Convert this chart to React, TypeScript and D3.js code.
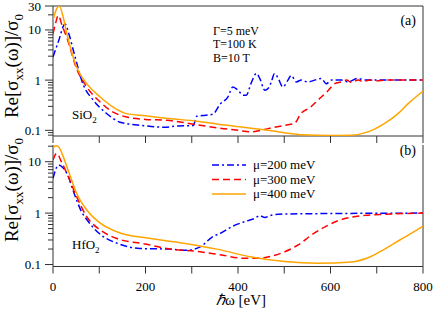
import React from "react";
import * as d3 from "d3";

// ---- data (x in the chart's energy units) ----
const xTicksMajor = [0, 200, 400, 600, 800];
const xTicksMinor = [100, 300, 500, 700];
const yTicksA = [0.1, 1, 10, 30];
const yTicksB = [0.1, 1, 10];

const siMu400X = [0, 6, 13.6, 22, 30, 51, 73, 102, 130, 159, 200, 250, 311, 357, 420, 465, 536, 600, 644, 681, 717, 746, 768, 789, 800];
const siMu400Y = [15.5, 24, 30, 18, 8.4, 1.82, 0.85, 0.46, 0.29, 0.215, 0.195, 0.172, 0.152, 0.132, 0.113, 0.1, 0.082, 0.079, 0.08, 0.093, 0.137, 0.215, 0.34, 0.5, 0.6];

const siMu300X = [0, 5, 11.5, 20, 30, 51, 73, 102, 130, 159, 200, 246, 318, 361, 400, 428, 465, 501, 522, 536, 557, 573, 595, 609, 623, 635, 645, 660, 670, 685, 700, 720, 800];
const siMu300Y = [8.4, 13, 19.4, 12, 7, 1.69, 0.73, 0.366, 0.23, 0.184, 0.165, 0.158, 0.126, 0.11, 0.1, 0.093, 0.108, 0.126, 0.137, 0.215, 0.29, 0.4, 0.62, 0.85, 0.92, 1.0, 0.9, 1.0, 0.93, 1.0, 0.97, 1.0, 1.0];

const siMu200X = [0, 12, 26, 35, 44, 66, 87, 116, 145, 188, 209, 240, 270, 303, 311, 330, 346, 361, 378, 389, 400, 411, 418, 428, 440, 447, 458, 465, 472, 479, 486, 497, 508, 515, 526, 537, 551, 566, 580, 591, 602, 623, 638, 659, 674, 800];
const siMu200Y = [2.9, 6, 13.2, 8, 3.9, 0.79, 0.4, 0.216, 0.145, 0.126, 0.12, 0.115, 0.122, 0.124, 0.19, 0.2, 0.21, 0.33, 0.46, 0.73, 0.63, 0.5, 0.5, 0.85, 1.36, 1.08, 0.63, 0.68, 0.92, 1.36, 1.13, 0.73, 1.0, 1.24, 0.92, 1.0, 0.92, 1.0, 1.08, 0.85, 1.0, 1.0, 0.92, 1.08, 1.0, 1.0];

const hfMu400X = [0, 6, 12, 20, 30, 51, 73, 100, 145, 200, 282, 357, 429, 501, 573, 645, 681, 717, 750, 780, 800];
const hfMu400Y = [18.5, 20.3, 19.5, 14, 8, 2.43, 1.15, 0.66, 0.41, 0.33, 0.26, 0.197, 0.14, 0.114, 0.106, 0.112, 0.135, 0.2, 0.3, 0.43, 0.56];

const hfMu300X = [0, 8, 18, 30, 51, 73, 102, 138, 200, 246, 318, 361, 414, 443, 472, 501, 530, 559, 588, 616, 645, 681, 717, 800];
const hfMu300Y = [10.8, 14.5, 10, 5.9, 2.09, 0.85, 0.47, 0.32, 0.25, 0.205, 0.177, 0.155, 0.132, 0.132, 0.145, 0.177, 0.24, 0.375, 0.54, 0.71, 0.83, 0.91, 0.95, 1.0];

const hfMu200X = [0, 12, 22, 33, 42, 52, 62, 73, 100, 138, 188, 246, 289, 318, 346, 361, 386, 414, 436, 447, 458, 472, 501, 800];
const hfMu200Y = [4.75, 8.6, 7.5, 5.2, 3.0, 1.7, 1.05, 0.75, 0.4, 0.26, 0.205, 0.2, 0.19, 0.22, 0.35, 0.4, 0.54, 0.68, 0.79, 0.89, 0.82, 0.91, 0.96, 1.0];

const legendLabels = ["\u03bc=200 meV", "\u03bc=300 meV", "\u03bc=400 meV"];
const paramLabels = ["\u0393=5 meV", "T=100 K", "B=10 T"];

const COLORS = ["#0000ff", "#ff0000", "#ffa500"];
const DASHES = ["7,3,2,3", "7,4", undefined as string | undefined];
const FONT = "'Liberation Serif', 'Times New Roman', serif";
const AXIS = "#333";

const x = d3.scaleLinear().domain([0, 800]).range([53, 423]);
const yA = d3.scaleLog().domain([0.077, 30]).range([136, 6]);
const yB = d3.scaleLog().domain([0.0915, 21.1]).range([266.5, 145]);

function minorTicks(domain: number[]) {
  const out: number[] = [];
  for (let e = -3; e <= 3; e++) {
    for (let m = 2; m <= 9; m++) {
      const v = m * Math.pow(10, e);
      if (v >= domain[0] && v <= domain[1]) out.push(v);
    }
  }
  return out;
}

function Series({ xs, ys, y, i, clip }: any) {
  const pts = xs.map((d: number, k: number) => [d, ys[k]] as [number, number]);
  const line = d3
    .line<[number, number]>()
    .x((d) => x(d[0]))
    .y((d) => y(d[1]))
    .curve(d3.curveMonotoneX);
  return (
    <path
      d={line(pts) || ""}
      fill="none"
      stroke={COLORS[i]}
      strokeWidth={1.5}
      strokeDasharray={DASHES[i]}
      clipPath={`url(#${clip})`}
    />
  );
}

function YLabel({ cx, cy }: { cx: number; cy: number }) {
  return (
    <text transform={`translate(${cx},${cy}) rotate(-90)`} textAnchor="middle" fontFamily={FONT} fontSize={19} fill="#000">
      Re[σ
      <tspan fontSize={13} dy={5}>xx</tspan>
      <tspan dy={-5}>(ω)]/σ</tspan>
      <tspan fontSize={13} dy={5}>0</tspan>
    </text>
  );
}

function Panel({ y, yTicks, top, bottom, showTop, clip }: any) {
  const dom = y.domain();
  return (
    <g>
      <defs>
        <clipPath id={clip}>
          <rect x={53} y={top} width={370} height={bottom - top} />
        </clipPath>
      </defs>
      <line x1={53} x2={53} y1={top} y2={bottom} stroke={AXIS} strokeWidth={1} />
      <line x1={53} x2={423} y1={bottom} y2={bottom} stroke={AXIS} strokeWidth={1} />
      <line x1={423} x2={423} y1={top} y2={bottom} stroke={AXIS} strokeWidth={1} />
      {showTop && <line x1={53} x2={423} y1={top} y2={top} stroke={AXIS} strokeWidth={1} />}
      {[...xTicksMajor, ...xTicksMinor].map((t) => (
        <line key={"xt" + t} x1={x(t)} x2={x(t)} y1={bottom} y2={bottom + 7} stroke={AXIS} strokeWidth={1} />
      ))}
      {yTicks.map((t: number) => (
        <g key={"yt" + t}>
          <line x1={45} x2={53} y1={y(t)} y2={y(t)} stroke={AXIS} strokeWidth={1} />
          <text x={41} y={y(t) + 4.5} textAnchor="end" fontFamily={FONT} fontSize={13} fill="#000">
            {String(t)}
          </text>
        </g>
      ))}
      {minorTicks(dom)
        .filter((t) => !yTicks.includes(t))
        .map((t) => (
          <line key={"ym" + t} x1={48} x2={53} y1={y(t)} y2={y(t)} stroke={AXIS} strokeWidth={1} />
        ))}
    </g>
  );
}

export default function App() {
  return (
    <svg width={436} height={309} style={{ position: "absolute", left: 0, top: 0, background: "#fff" }}>
      <rect width={436} height={309} fill="#fff" />
      <Panel y={yA} yTicks={yTicksA} top={6} bottom={136} showTop={true} clip="clipA" />
      <Panel y={yB} yTicks={yTicksB} top={145} bottom={266.5} showTop={false} clip="clipB" />

      <Series xs={siMu200X} ys={siMu200Y} y={yA} i={0} clip="clipA" />
      <Series xs={siMu300X} ys={siMu300Y} y={yA} i={1} clip="clipA" />
      <Series xs={siMu400X} ys={siMu400Y} y={yA} i={2} clip="clipA" />

      <Series xs={hfMu200X} ys={hfMu200Y} y={yB} i={0} clip="clipB" />
      <Series xs={hfMu300X} ys={hfMu300Y} y={yB} i={1} clip="clipB" />
      <Series xs={hfMu400X} ys={hfMu400Y} y={yB} i={2} clip="clipB" />

      {xTicksMajor.map((t) => (
        <text key={"xl" + t} x={x(t)} y={290.5} textAnchor="middle" fontFamily={FONT} fontSize={13} fill="#000">
          {t}
        </text>
      ))}
      <text x={241} y={305} textAnchor="middle" fontFamily={FONT} fontSize={15} fill="#000">
        <tspan fontStyle="italic">ℏ</tspan>ω [eV]
      </text>

      <YLabel cx={18} cy={66} />
      <YLabel cx={18} cy={190} />

      <text x={416} y={25} textAnchor="end" fontFamily={FONT} fontSize={14} fill="#000">(a)</text>
      <text x={416} y={155} textAnchor="end" fontFamily={FONT} fontSize={14} fill="#000">(b)</text>

      {paramLabels.map((s, k) => (
        <text key={s} x={213} y={34.5 + k * 13.5} fontFamily={FONT} fontSize={12} fill="#000">{s}</text>
      ))}

      <text x={72} y={119} fontFamily={FONT} fontSize={13} fill="#000">
        SiO<tspan fontSize={9} dy={4}>2</tspan>
      </text>
      <text x={72} y={249} fontFamily={FONT} fontSize={13} fill="#000">
        HfO<tspan fontSize={9} dy={4}>2</tspan>
      </text>

      {legendLabels.map((s, k) => {
        const ly = 165 + k * 14.5;
        return (
          <g key={s}>
            <line x1={212} x2={246} y1={ly} y2={ly} stroke={COLORS[k]} strokeWidth={1.5} strokeDasharray={DASHES[k]} />
            <text x={253} y={ly + 4} fontFamily={FONT} fontSize={13} fill="#000">{s}</text>
          </g>
        );
      })}
    </svg>
  );
}
